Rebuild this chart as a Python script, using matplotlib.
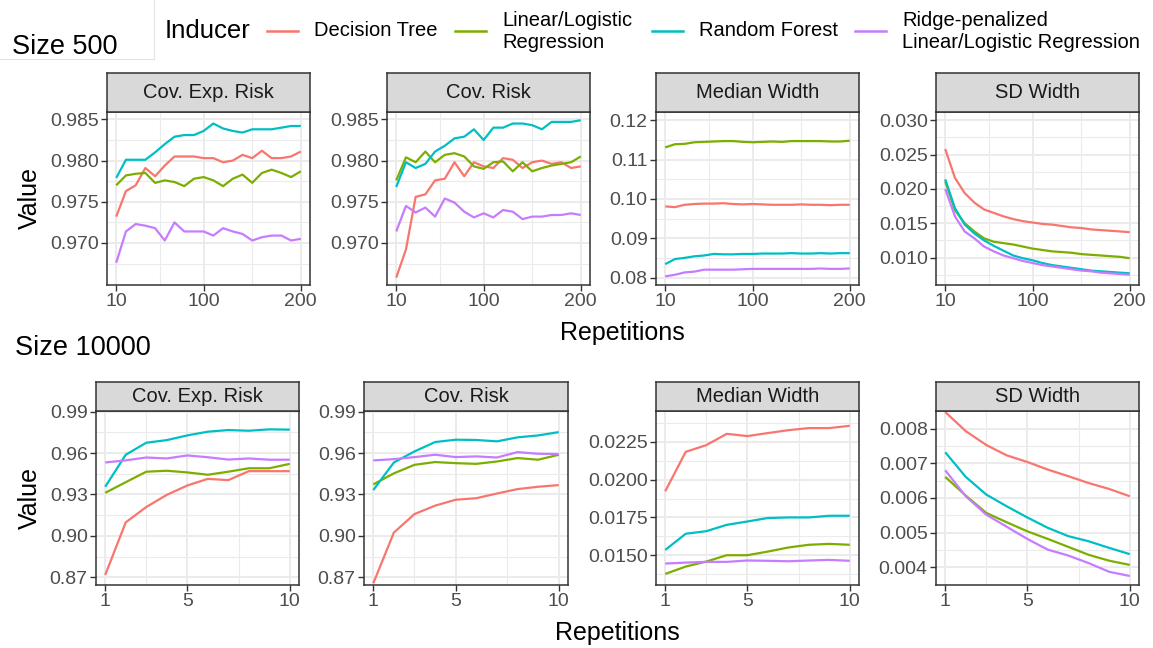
import matplotlib
matplotlib.use("Agg")
import matplotlib.pyplot as plt
from matplotlib.lines import Line2D
from matplotlib.ticker import FixedLocator, FormatStrFormatter

plt.rcParams["font.family"] = ["Liberation Sans", "DejaVu Sans"]

W, H = 1153, 648

inducers = ["Decision Tree", "Linear/Logistic\nRegression", "Random Forest",
            "Ridge-penalized\nLinear/Logistic Regression"]
colors = ["#F8766D", "#7CAE00", "#00BFC4", "#C77CFF"]

reps_500 = [10, 20, 30, 40, 50, 60, 70, 80, 90, 100,
            110, 120, 130, 140, 150, 160, 170, 180, 190, 200]
reps_10000 = [1, 2, 3, 4, 5, 6, 7, 8, 9, 10]

# size 500, one row per inducer (tree, lm, rf, ridge)
cov_exp_risk_500 = [
    [0.9732, 0.9763, 0.9770, 0.9791, 0.9781, 0.9794, 0.9805, 0.9805, 0.9805, 0.9803,
     0.9803, 0.9798, 0.9800, 0.9807, 0.9803, 0.9812, 0.9803, 0.9803, 0.9805, 0.9811],
    [0.9770, 0.9782, 0.9784, 0.9785, 0.9773, 0.9776, 0.9774, 0.9769, 0.9778, 0.9780,
     0.9776, 0.9769, 0.9778, 0.9783, 0.9773, 0.9785, 0.9789, 0.9785, 0.9780, 0.9787],
    [0.9779, 0.9801, 0.9801, 0.9801, 0.9810, 0.9820, 0.9829, 0.9831, 0.9831, 0.9836,
     0.9845, 0.9839, 0.9836, 0.9834, 0.9838, 0.9838, 0.9838, 0.9840, 0.9842, 0.9842],
    [0.9676, 0.9714, 0.9723, 0.9721, 0.9718, 0.9703, 0.9725, 0.9714, 0.9714, 0.9714,
     0.9709, 0.9718, 0.9714, 0.9711, 0.9703, 0.9707, 0.9709, 0.9709, 0.9703, 0.9705],
]
cov_risk_500 = [
    [0.9658, 0.9692, 0.9756, 0.9759, 0.9776, 0.9778, 0.9798, 0.9781, 0.9798, 0.9793,
     0.9791, 0.9803, 0.9801, 0.9791, 0.9798, 0.9800, 0.9796, 0.9798, 0.9791, 0.9793],
    [0.9776, 0.9804, 0.9798, 0.9811, 0.9798, 0.9807, 0.9809, 0.9805, 0.9793, 0.9790,
     0.9798, 0.9799, 0.9787, 0.9798, 0.9787, 0.9791, 0.9794, 0.9796, 0.9798, 0.9805],
    [0.9768, 0.9798, 0.9791, 0.9796, 0.9811, 0.9818, 0.9827, 0.9829, 0.9838, 0.9825,
     0.9840, 0.9840, 0.9845, 0.9845, 0.9843, 0.9838, 0.9847, 0.9847, 0.9847, 0.9849],
    [0.9714, 0.9745, 0.9737, 0.9743, 0.9732, 0.9754, 0.9749, 0.9738, 0.9731, 0.9736,
     0.9731, 0.9740, 0.9738, 0.9729, 0.9732, 0.9732, 0.9734, 0.9734, 0.9736, 0.9734],
]
median_width_500 = [
    [0.0981, 0.0979, 0.0985, 0.0987, 0.0988, 0.0988, 0.0989, 0.0987, 0.0986, 0.0987,
     0.0986, 0.0985, 0.0985, 0.0985, 0.0986, 0.0985, 0.0985, 0.0984, 0.0985, 0.0985],
    [0.1131, 0.1139, 0.1140, 0.1144, 0.1145, 0.1146, 0.1147, 0.1147, 0.1145, 0.1144,
     0.1145, 0.1146, 0.1145, 0.1147, 0.1147, 0.1147, 0.1147, 0.1146, 0.1146, 0.1148],
    [0.0834, 0.0847, 0.0850, 0.0854, 0.0856, 0.0860, 0.0859, 0.0859, 0.0860, 0.0860,
     0.0861, 0.0861, 0.0861, 0.0862, 0.0861, 0.0861, 0.0862, 0.0861, 0.0862, 0.0862],
    [0.0803, 0.0807, 0.0813, 0.0815, 0.0820, 0.0820, 0.0820, 0.0820, 0.0821, 0.0822,
     0.0822, 0.0822, 0.0822, 0.0822, 0.0822, 0.0822, 0.0823, 0.0822, 0.0822, 0.0823],
]
sd_width_500 = [
    [0.0258, 0.0216, 0.0194, 0.0180, 0.0170, 0.0165, 0.0160, 0.0156, 0.0153, 0.0151,
     0.0149, 0.0148, 0.0146, 0.0144, 0.0143, 0.0141, 0.0140, 0.0139, 0.0138, 0.0137],
    [0.0211, 0.0169, 0.0150, 0.0138, 0.0128, 0.0123, 0.0121, 0.0119, 0.0116, 0.0113,
     0.0111, 0.0109, 0.0108, 0.0107, 0.0105, 0.0104, 0.0103, 0.0102, 0.0101, 0.0099],
    [0.0214, 0.0172, 0.0148, 0.0135, 0.0125, 0.0117, 0.0110, 0.0103, 0.0099, 0.0096,
     0.0092, 0.0089, 0.0087, 0.0085, 0.0083, 0.0081, 0.0080, 0.0079, 0.0078, 0.0077],
    [0.0200, 0.0160, 0.0138, 0.0128, 0.0116, 0.0109, 0.0103, 0.0099, 0.0095, 0.0092,
     0.0089, 0.0087, 0.0085, 0.0083, 0.0081, 0.0080, 0.0078, 0.0077, 0.0076, 0.0075],
]

# size 10000
cov_exp_risk_10000 = [
    [0.8717, 0.9098, 0.9209, 0.9297, 0.9365, 0.9413, 0.9404, 0.9469, 0.9469, 0.9469],
    [0.9312, 0.9389, 0.9465, 0.9472, 0.9460, 0.9443, 0.9465, 0.9490, 0.9490, 0.9522],
    [0.9356, 0.9588, 0.9675, 0.9694, 0.9728, 0.9755, 0.9767, 0.9762, 0.9772, 0.9770],
    [0.9532, 0.9547, 0.9568, 0.9561, 0.9583, 0.9570, 0.9553, 0.9561, 0.9552, 0.9552],
]
cov_risk_10000 = [
    [0.8656, 0.9024, 0.9158, 0.9219, 0.9262, 0.9273, 0.9307, 0.9339, 0.9356, 0.9368],
    [0.9373, 0.9453, 0.9515, 0.9535, 0.9527, 0.9522, 0.9539, 0.9564, 0.9552, 0.9588],
    [0.9332, 0.9532, 0.9612, 0.9680, 0.9697, 0.9695, 0.9685, 0.9714, 0.9728, 0.9752],
    [0.9547, 0.9556, 0.9571, 0.9588, 0.9571, 0.9576, 0.9568, 0.9607, 0.9595, 0.9593],
]
median_width_10000 = [
    [0.01923, 0.02184, 0.02228, 0.02303, 0.02288, 0.02308, 0.02327, 0.02341, 0.02341, 0.02356],
    [0.01376, 0.01425, 0.01458, 0.01500, 0.01500, 0.01524, 0.01551, 0.01569, 0.01575, 0.01569],
    [0.01535, 0.01642, 0.01659, 0.01701, 0.01723, 0.01746, 0.01750, 0.01750, 0.01761, 0.01761],
    [0.01445, 0.01451, 0.01456, 0.01456, 0.01465, 0.01463, 0.01460, 0.01465, 0.01469, 0.01463],
]
sd_width_10000 = [
    [0.00848, 0.00793, 0.00753, 0.00723, 0.00704, 0.00682, 0.00663, 0.00643, 0.00626, 0.00605],
    [0.00661, 0.00607, 0.00557, 0.00530, 0.00504, 0.00482, 0.00459, 0.00436, 0.00419, 0.00407],
    [0.00732, 0.00661, 0.00610, 0.00576, 0.00544, 0.00514, 0.00490, 0.00475, 0.00456, 0.00438],
    [0.00680, 0.00605, 0.00552, 0.00517, 0.00482, 0.00451, 0.00434, 0.00412, 0.00387, 0.00375],
]

GRID = "#EBEBEB"
DARK = "#333333"

fig = plt.figure(figsize=(W / 100, H / 100), dpi=100)


def px_axes(left, top, right, bottom):
    return fig.add_axes([left / W, 1 - bottom / H, (right - left) / W, (bottom - top) / H])


def panel(box, strip_top, title, x, series, xlim, xmaj, xmin, ylim, ymaj, ymin, yfmt):
    left, top, right, bottom = box
    ax = px_axes(left, top, right, bottom)
    ax.set_xlim(*xlim)
    ax.set_ylim(*ylim)
    ax.xaxis.set_major_locator(FixedLocator(xmaj))
    ax.xaxis.set_minor_locator(FixedLocator(xmin))
    ax.yaxis.set_major_locator(FixedLocator(ymaj))
    ax.yaxis.set_minor_locator(FixedLocator(ymin))
    ax.yaxis.set_major_formatter(FormatStrFormatter(yfmt))
    ax.grid(which="major", color=GRID, lw=1.4)
    ax.grid(which="minor", color=GRID, lw=0.8)
    ax.set_axisbelow(True)
    ax.tick_params(which="major", length=4, width=1, color=DARK,
                   labelsize=14, labelcolor="#4D4D4D", pad=2)
    ax.tick_params(which="minor", length=0)
    for s in ax.spines.values():
        s.set_color(DARK)
        s.set_linewidth(1.1)
    for ys, c in zip(series, colors):
        ax.plot(x, ys, color=c, lw=1.6, solid_capstyle="butt")

    st = px_axes(left, strip_top, right, top)
    st.set_facecolor("#D9D9D9")
    st.set_xticks([])
    st.set_yticks([])
    for s in st.spines.values():
        s.set_color(DARK)
        s.set_linewidth(1.1)
    st.text(0.5, 0.5, title, ha="center", va="center", fontsize=14.5,
            color="#1A1A1A", transform=st.transAxes)
    return ax


titles = ["Cov. Exp. Risk", "Cov. Risk", "Median Width", "SD Width"]

# size 500 row
top_boxes = [(107, 112, 310, 285), (387, 112, 590, 285),
             (656, 112, 859, 285), (936, 112, 1139, 285)]
xl500 = (0.5, 209.5)
cov_ticks = [0.970, 0.975, 0.980, 0.985]
cov_minor = [0.9675, 0.9725, 0.9775, 0.9825]
panel(top_boxes[0], 73, titles[0], reps_500, cov_exp_risk_500, xl500, [10, 100, 200], [55, 150],
      (0.9649, 0.9859), cov_ticks, cov_minor, "%.3f")
panel(top_boxes[1], 73, titles[1], reps_500, cov_risk_500, xl500, [10, 100, 200], [55, 150],
      (0.9649, 0.9859), cov_ticks, cov_minor, "%.3f")
panel(top_boxes[2], 73, titles[2], reps_500, median_width_500, xl500, [10, 100, 200], [55, 150],
      (0.0781, 0.1221), [0.08, 0.09, 0.10, 0.11, 0.12], [0.085, 0.095, 0.105, 0.115], "%.2f")
panel(top_boxes[3], 73, titles[3], reps_500, sd_width_500, xl500, [10, 100, 200], [55, 150],
      (0.0060, 0.0312), [0.010, 0.015, 0.020, 0.025, 0.030],
      [0.0075, 0.0125, 0.0175, 0.0225, 0.0275], "%.3f")

# size 10000 row
bot_boxes = [(96, 411, 299, 585), (364, 411, 568, 585),
             (656, 411, 859, 585), (936, 411, 1139, 585)]
xl10k = (0.55, 10.45)
big_ticks = [0.87, 0.90, 0.93, 0.96, 0.99]
big_minor = [0.885, 0.915, 0.945, 0.975]
panel(bot_boxes[0], 382, titles[0], reps_10000, cov_exp_risk_10000, xl10k, [1, 5, 10], [3, 7.5],
      (0.8644, 0.9905), big_ticks, big_minor, "%.2f")
panel(bot_boxes[1], 382, titles[1], reps_10000, cov_risk_10000, xl10k, [1, 5, 10], [3, 7.5],
      (0.8644, 0.9905), big_ticks, big_minor, "%.2f")
panel(bot_boxes[2], 382, titles[2], reps_10000, median_width_10000, xl10k, [1, 5, 10], [3, 7.5],
      (0.01303, 0.02454), [0.0150, 0.0175, 0.0200, 0.0225],
      [0.01375, 0.01625, 0.01875, 0.02125, 0.02375], "%.4f")
panel(bot_boxes[3], 382, titles[3], reps_10000, sd_width_10000, xl10k, [1, 5, 10], [3, 7.5],
      (0.00349, 0.00851), [0.004, 0.005, 0.006, 0.007, 0.008],
      [0.0035, 0.0045, 0.0055, 0.0065, 0.0075], "%.3f")

# axis titles and row headings
fig.text(30 / W, 1 - 198 / H, "Value", rotation=90, ha="center", va="center", fontsize=18)
fig.text(30 / W, 1 - 498 / H, "Value", rotation=90, ha="center", va="center", fontsize=18)
fig.text(622 / W, 1 - 333 / H, "Repetitions", ha="center", va="center", fontsize=18)
fig.text(617 / W, 1 - 633 / H, "Repetitions", ha="center", va="center", fontsize=18)
fig.text(12 / W, 1 - 47 / H, "Size 500", ha="left", va="center", fontsize=19.5)
fig.text(15 / W, 1 - 348 / H, "Size 10000", ha="left", va="center", fontsize=19.5)

# faint frame around the first heading
fig.add_artist(Line2D([0, 154 / W], [1 - 59 / H, 1 - 59 / H], color="#E3E3E3", lw=0.8))
fig.add_artist(Line2D([154 / W, 154 / W], [1 - 59 / H, 1], color="#E3E3E3", lw=0.8))

# legend
fig.text(165 / W, 1 - 31 / H, "Inducer", ha="left", va="center", fontsize=18.5)
key_x = [267, 455, 652, 855]
for kx, lab, c in zip(key_x, inducers, colors):
    fig.add_artist(Line2D([kx / W, (kx + 31) / W], [1 - 31 / H, 1 - 31 / H], color=c, lw=1.8))
    fig.text((kx + 47) / W, 1 - 31 / H, lab, ha="left", va="center", fontsize=14.5,
             linespacing=1.2)

fig.savefig("out.png", dpi=100)
